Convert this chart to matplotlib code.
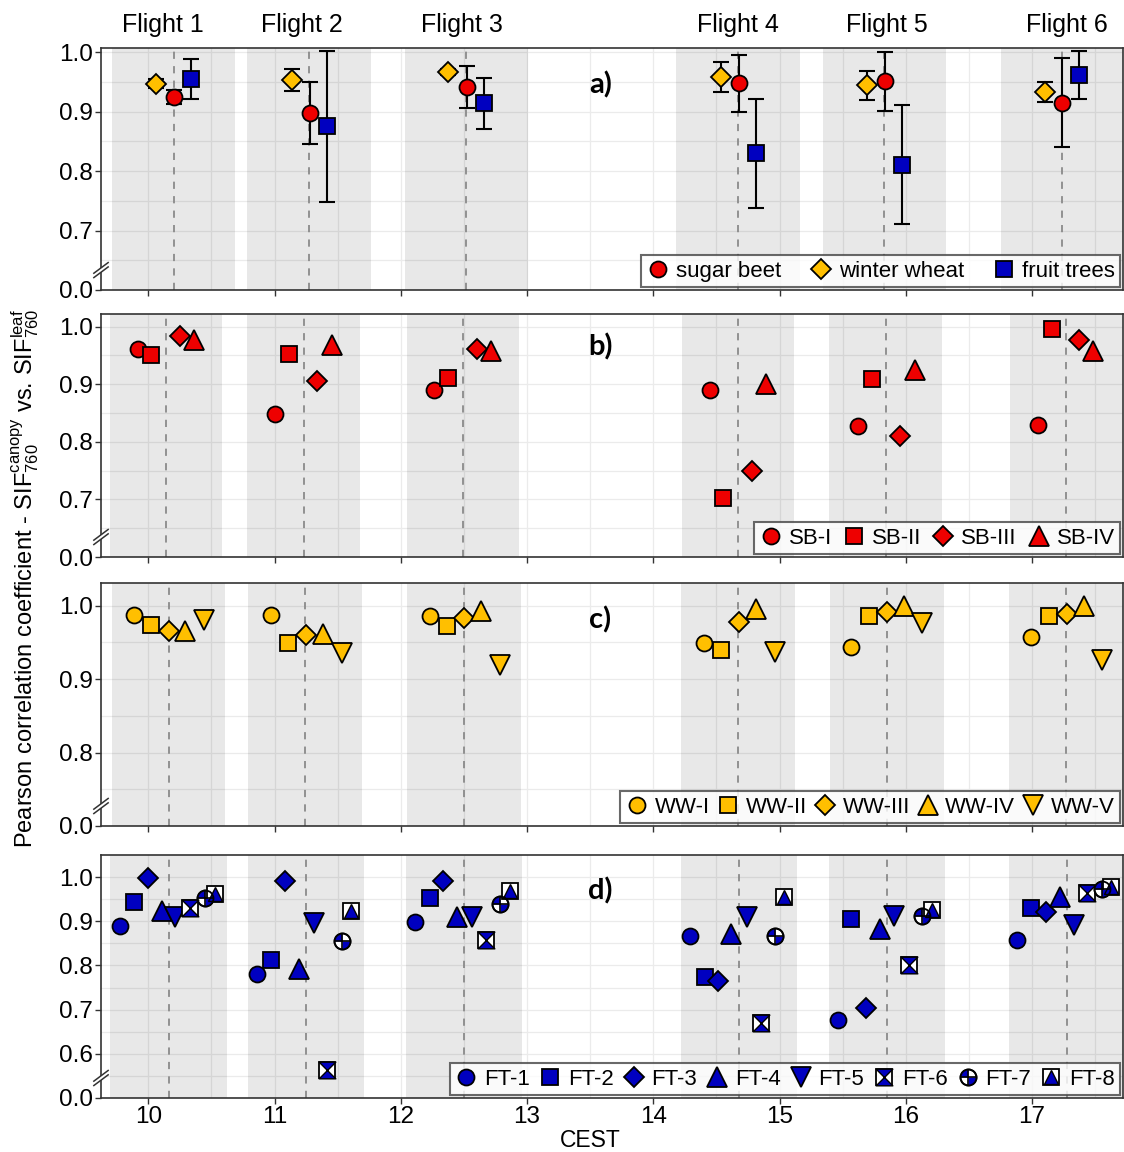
import numpy as np
import matplotlib.pyplot as plt
from matplotlib.path import Path
from matplotlib.patches import Polygon
from matplotlib.ticker import FixedLocator
from matplotlib.legend_handler import HandlerTuple
import matplotlib.transforms as mtransforms

plt.rcParams['font.family'] = ['Liberation Sans', 'DejaVu Sans']
plt.rcParams['mathtext.fontset'] = 'custom'
plt.rcParams['mathtext.rm'] = 'Liberation Sans'
plt.rcParams['mathtext.it'] = 'Liberation Sans:italic'

RED = '#ee0000'
GOLD = '#ffbf00'
BLUE = '#0000c0'

# ---- flights --------------------------------------------------------------
flight_labels = ['Flight 1', 'Flight 2', 'Flight 3', 'Flight 4', 'Flight 5', 'Flight 6']
flight_label_x = [10.115, 11.22, 12.48, 14.67, 15.85, 17.275]
# mean flight time (dashed line) as drawn in each panel
flight_t_a = [10.20, 11.27, 12.52, 14.67, 15.83, 17.24]
flight_t_b = [10.14, 11.23, 12.49, 14.67, 15.84, 17.27]
flight_t_c = [10.16, 11.24, 12.50, 14.67, 15.85, 17.27]
flight_t_d = [10.16, 11.25, 12.50, 14.68, 15.85, 17.28]
flight_half = [0.49, 0.445, 0.45, 0.46]

# ---- a) crop means with SD ------------------------------------------------
crop_names = ['sugar beet', 'winter wheat', 'fruit trees']
sb_a_x = [10.20, 11.278, 12.524, 14.675, 15.833, 17.24]
sb_a_y = [0.924, 0.8975, 0.941, 0.948, 0.951, 0.915]
sb_a_sd = [0.012, 0.052, 0.035, 0.048, 0.050, 0.075]
ww_a_x = [10.063, 11.141, 12.377, 14.535, 15.69, 17.10]
ww_a_y = [0.947, 0.953, 0.966, 0.958, 0.944, 0.933]
ww_a_sd = [0.008, 0.018, 0.005, 0.025, 0.024, 0.017]
ft_a_x = [10.336, 11.413, 12.66, 14.81, 15.97, 17.37]
ft_a_y = [0.955, 0.875, 0.914, 0.830, 0.811, 0.962]
ft_a_sd = [0.034, 0.127, 0.043, 0.092, 0.100, 0.040]

# ---- b) sugar beet plots --------------------------------------------------
sb_names = ['SB-I', 'SB-II', 'SB-III', 'SB-IV']
sb_x = [[9.917, 11.002, 12.264, 14.446, 15.62, 17.05],
        [10.021, 11.116, 12.377, 14.555, 15.73, 17.155],
        [10.25, 11.334, 12.60, 14.783, 15.95, 17.37],
        [10.365, 11.456, 12.714, 14.89, 16.07, 17.48]]
sb_y = [[0.962, 0.849, 0.890, 0.890, 0.8275, 0.829],
        [0.951, 0.952, 0.910, 0.7026, 0.909, 0.996],
        [0.983, 0.905, 0.961, 0.750, 0.810, 0.977],
        [0.976, 0.968, 0.958, 0.900, 0.9245, 0.958]]

# ---- c) winter wheat plots ------------------------------------------------
ww_names = ['WW-I', 'WW-II', 'WW-III', 'WW-IV', 'WW-V']
ww_x = [[9.883, 10.971, 12.227, 14.403, 15.567, 16.995],
        [10.021, 11.107, 12.363, 14.535, 15.705, 17.13],
        [10.163, 11.249, 12.50, 14.675, 15.85, 17.275],
        [10.294, 11.385, 12.638, 14.817, 15.987, 17.41],
        [10.44, 11.532, 12.785, 14.96, 16.125, 17.55]]
ww_y = [[0.988, 0.988, 0.986, 0.949, 0.944, 0.957],
        [0.974, 0.9486, 0.973, 0.940, 0.986, 0.986],
        [0.965, 0.960, 0.984, 0.978, 0.992, 0.989],
        [0.966, 0.9614, 0.993, 0.9955, 1.000, 0.999],
        [0.980, 0.936, 0.919, 0.9375, 0.977, 0.926]]

# ---- d) fruit tree plots --------------------------------------------------
ft_names = ['FT-1', 'FT-2', 'FT-3', 'FT-4', 'FT-5', 'FT-6', 'FT-7', 'FT-8']
ft_x = [[9.774, 10.86, 12.113, 14.292, 15.46, 16.88],
        [9.883, 10.971, 12.227, 14.406, 15.568, 16.995],
        [10.0, 11.084, 12.334, 14.51, 15.688, 17.11],
        [10.107, 11.192, 12.448, 14.619, 15.796, 17.218],
        [10.214, 11.311, 12.561, 14.74, 15.91, 17.333],
        [10.328, 11.419, 12.672, 14.85, 16.024, 17.438],
        [10.447, 11.532, 12.788, 14.963, 16.125, 17.552],
        [10.526, 11.603, 12.865, 15.034, 16.21, 17.624]]
ft_y = [[0.889, 0.781, 0.898, 0.866, 0.6766, 0.858],
        [0.944, 0.813, 0.952, 0.773, 0.905, 0.930],
        [0.998, 0.991, 0.992, 0.764, 0.7045, 0.921],
        [0.924, 0.792, 0.909, 0.871, 0.883, 0.9545],
        [0.909, 0.896, 0.909, 0.909, 0.911, 0.8925],
        [0.930, 0.5643, 0.857, 0.669, 0.8015, 0.964],
        [0.953, 0.856, 0.938, 0.866, 0.911, 0.972],
        [0.962, 0.923, 0.968, 0.9545, 0.925, 0.977]]

# marker shapes
MS = {'o': 11.5, 's': 12, 'D': 10, '^': 14, 'v': 14}
MEW = 1.3
hourglass = Path([(-1, 1), (1, 1), (-1, -1), (1, -1), (-1, 1)],
                 [Path.MOVETO, Path.LINETO, Path.LINETO, Path.LINETO, Path.CLOSEPOLY])
_t1 = np.linspace(np.pi / 2, np.pi, 12)
_t2 = np.linspace(-np.pi / 2, 0, 12)
_v = [(0, 0)] + list(zip(np.cos(_t1), np.sin(_t1))) + [(0, 0)] \
    + [(0, 0)] + list(zip(np.cos(_t2), np.sin(_t2))) + [(0, 0)]
_c = ([Path.MOVETO] + [Path.LINETO] * 12 + [Path.CLOSEPOLY]) * 2
quadrants = Path(_v, _c)


def pts(ax, x, y, marker, color, label=None, z=3):
    ms = MS.get(marker, 12)
    h, = ax.plot(x, y, ls='none', marker=marker, ms=ms, mfc=color, mec='black',
                 mew=MEW, zorder=z, label=label)
    return h


def ft_points(ax, i, x, y):
    base = ['o', 's', 'D', '^', 'v']
    if i < 5:
        return pts(ax, x, y, base[i], BLUE)
    if i == 5:
        h1, = ax.plot(x, y, ls='none', marker='s', ms=12, mfc='white', mec='black', mew=MEW, zorder=3)
        h2, = ax.plot(x, y, ls='none', marker=hourglass, ms=12, mfc=BLUE, mec='black', mew=1.0, zorder=4)
        return (h1, h2)
    if i == 6:
        h1, = ax.plot(x, y, ls='none', marker='o', ms=11.5, mfc='white', mec='black', mew=MEW, zorder=3)
        h2, = ax.plot(x, y, ls='none', marker=quadrants, ms=11.5, mfc=BLUE, mec='none', zorder=4)
        h3, = ax.plot(x, y, ls='none', marker='+', ms=11, mec='black', mew=1.2, zorder=5)
        h4, = ax.plot(x, y, ls='none', marker='o', ms=11.5, mfc='none', mec='black', mew=MEW, zorder=5)
        return (h1, h2, h3, h4)
    h1, = ax.plot(x, y, ls='none', marker='s', ms=12, mfc='white', mec='black', mew=MEW, zorder=3)
    h2, = ax.plot(x, y, ls='none', marker='^', ms=10, mfc=BLUE, mec='black', mew=1.0, zorder=4)
    return (h1, h2)


def axis_break(ax, frac):
    tr = ax.transAxes
    dx, dy, g = 0.007, 0.022, 0.018
    gap = Polygon([(-dx, frac - dy - g / 2), (dx, frac + dy - g / 2),
                   (dx, frac + dy + g / 2), (-dx, frac - dy + g / 2)],
                  closed=True, transform=tr, fc='white', ec='none', clip_on=False, zorder=10)
    ax.add_patch(gap)
    for off in (-g / 2, g / 2):
        ax.plot([-dx, dx], [frac - dy + off, frac + dy + off], color='#333333', lw=1.1,
                transform=tr, clip_on=False, zorder=11)


def style(ax, ybot, ytop, yticks, times, half, show_x=False):
    ax.set_xlim(9.625, 17.72)
    ax.set_ylim(ybot, ytop)
    ax.set_xticks(range(10, 18))
    ax.xaxis.set_minor_locator(FixedLocator(np.arange(9.5, 18, 1.0)))
    ax.set_yticks(yticks)
    ax.set_yticklabels(['0.0'] + ['%.1f' % v for v in yticks[1:]])
    ax.yaxis.set_minor_locator(FixedLocator(np.arange(yticks[0] + 0.05, 1.0, 0.1)))
    ax.set_axisbelow(True)
    ax.grid(which='both', color='#ebebeb', lw=0.9)
    ax.tick_params(which='major', direction='out', length=4, width=1, color='#333333',
                   labelsize=17.5, pad=2)
    ax.tick_params(which='minor', length=0)
    if not show_x:
        ax.tick_params(axis='x', labelbottom=False)
    for s in ax.spines.values():
        s.set_color('#333333')
        s.set_linewidth(1.2)
    for t in times:
        ax.axvspan(t - half, t + half, color='black', alpha=0.09, lw=0, zorder=1)
        ax.axvline(t, color='#8a8a8a', ls=(0, (4, 4)), lw=1.3, zorder=2)
    axis_break(ax, 20.0 / 243)


def legend(ax, handles, labels, ncol, colsp):
    lg = ax.legend(handles, labels, loc='lower right', bbox_to_anchor=(1.0, 0.0), ncol=ncol,
                   fontsize=16, frameon=True, fancybox=False, borderaxespad=0.12,
                   borderpad=0.25, handlelength=1.0, handletextpad=0.3, columnspacing=colsp,
                   handler_map={tuple: HandlerTuple(ndivide=1)})
    lg.get_frame().set_edgecolor('#444444')
    lg.get_frame().set_linewidth(1.5)
    lg.set_zorder(20)


fig = plt.figure(figsize=(11.24, 11.52), dpi=100)
L, W = 101 / 1124, 1022 / 1124
ax_a = fig.add_axes([L, 1 - 290 / 1152, W, 242 / 1152])
ax_b = fig.add_axes([L, 1 - 557 / 1152, W, 243 / 1152])
ax_c = fig.add_axes([L, 1 - 826 / 1152, W, 243 / 1152])
ax_d = fig.add_axes([L, 1 - 1098 / 1152, W, 243 / 1152])

style(ax_a, 0.6, 1.007, [0.6, 0.7, 0.8, 0.9, 1.0], flight_t_a, flight_half[0])
style(ax_b, 0.6, 1.022, [0.6, 0.7, 0.8, 0.9, 1.0], flight_t_b, flight_half[1])
style(ax_c, 0.7, 1.031, [0.7, 0.8, 0.9, 1.0], flight_t_c, flight_half[2])
style(ax_d, 0.5, 1.050, [0.5, 0.6, 0.7, 0.8, 0.9, 1.0], flight_t_d, flight_half[3], show_x=True)

# a)
eb = dict(ls='none', ecolor='black', elinewidth=1.5, capsize=6, capthick=1.5, zorder=2.5)
ax_a.errorbar(sb_a_x, sb_a_y, yerr=sb_a_sd, **eb)
ax_a.errorbar(ww_a_x, ww_a_y, yerr=ww_a_sd, **eb)
ax_a.errorbar(ft_a_x, ft_a_y, yerr=ft_a_sd, **eb)
ha = [pts(ax_a, ww_a_x, ww_a_y, 'D', GOLD),
      pts(ax_a, sb_a_x, sb_a_y, 'o', RED),
      pts(ax_a, ft_a_x, ft_a_y, 's', BLUE)]
legend(ax_a, [ha[1], ha[0], ha[2]], crop_names, 3, 1.3)

# b)
shapes = ['o', 's', 'D', '^', 'v']
hb = [pts(ax_b, sb_x[i], sb_y[i], shapes[i], RED) for i in range(4)]
legend(ax_b, hb, sb_names, 4, 0.5)

# c)
hc = [pts(ax_c, ww_x[i], ww_y[i], shapes[i], GOLD) for i in range(5)]
legend(ax_c, hc, ww_names, 5, 0.3)

# d)
hd = [ft_points(ax_d, i, ft_x[i], ft_y[i]) for i in range(8)]
legend(ax_d, hd, ft_names, 8, 0.4)

# panel letters
for ax, lab, yf in [(ax_a, 'a)', 0.847), (ax_b, 'b)', 0.864), (ax_c, 'c)', 0.848), (ax_d, 'd)', 0.852)]:
    tr = mtransforms.blended_transform_factory(ax.transData, ax.transAxes)
    ax.text(13.58, yf, lab, transform=tr, ha='center', va='center', fontsize=21,
            fontweight='bold', family=['Lato', 'DejaVu Sans'], zorder=15)

# flight labels
tr = mtransforms.blended_transform_factory(ax_a.transData, ax_a.transAxes)
for x, lab in zip(flight_label_x, flight_labels):
    ax_a.text(x, 1.095, lab, transform=tr, ha='center', va='center', fontsize=18, clip_on=False)

fig.text(0.022, 0.498,
         r'Pearson correlation coefficient - SIF$_{\mathrm{760}}^{\mathrm{canopy}}$ vs. '
         r'SIF$_{\mathrm{760}}^{\mathrm{leaf}}$',
         rotation=90, ha='center', va='center', fontsize=17)
fig.text(0.525, 0.0104, 'CEST', ha='center', va='center', fontsize=16.5)

fig.savefig('out.png', dpi=100)
